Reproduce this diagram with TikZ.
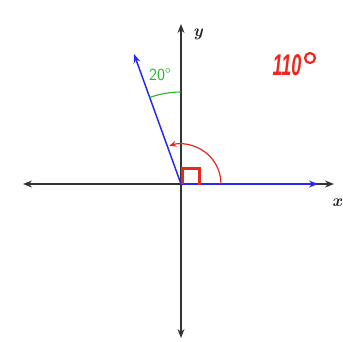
\documentclass[tikz,border=0pt]{standalone}
\usepackage{fontspec}
\newfontfamily\handfont{Liberation Sans}
\usetikzlibrary{arrows.meta}
\definecolor{myblue}{RGB}{40,40,240}
\definecolor{mygreen}{RGB}{40,180,40}
\definecolor{myred}{RGB}{235,40,30}
\tikzset{
  axis/.style={draw=black!80, line width=1.3pt, -{Stealth[length=9pt,width=7pt]}},
  ray/.style={draw=myblue, line width=1.5pt, -{Stealth[length=9pt,width=7pt]}},
  lbl/.style={font=\fontsize{17}{17}\selectfont\bfseries\itshape, text=black!85},
}
\begin{document}
\begin{tikzpicture}[x=1pt,y=-1pt]
\useasboundingbox (0,0) rectangle (343,341);
\coordinate (O) at (181,184);
\coordinate (xl) at (23,184);
\coordinate (xr) at (334,184);
\coordinate (yt) at (181,24);
\coordinate (yb) at (181,338);
\coordinate (rt) at (134,54);
\coordinate (bx) at (318,184);
\draw[axis] (O) -- (xl);
\draw[axis] (O) -- (xr);
\draw[axis] (O) -- (yt);
\draw[axis] (O) -- (yb);
\draw[ray] (O) -- (bx);
\draw[ray] (O) -- (rt);
% green 20 deg arc
\draw[mygreen, line width=1.1pt] (181,92) arc[start angle=-90, end angle=-110, radius=92];
\node[text=mygreen, font=\sffamily\fontsize{17}{17}\selectfont] (g) at (160,75) {20°};
% red arc
\draw[myred, line width=1.2pt, -{Stealth[length=7pt,width=6pt]}] (221,184) arc[start angle=0, end angle=-107, radius=40];
% right angle mark
\draw[myred, line width=3pt] (182,184) -- (182,168) -- (199,168) -- (199,185);
% labels
\node[lbl] (ylab) at (198,34) {y};
\node[lbl] (xlab) at (337,203) {x};
\node[text=myred, font=\handfont\bfseries\itshape\fontsize{30}{30}\selectfont, xscale=0.6, inner sep=0] (ans) at (287,65) {110};
\draw[myred, line width=2.2pt] (310,58) circle[radius=5];
\end{tikzpicture}
\end{document}
